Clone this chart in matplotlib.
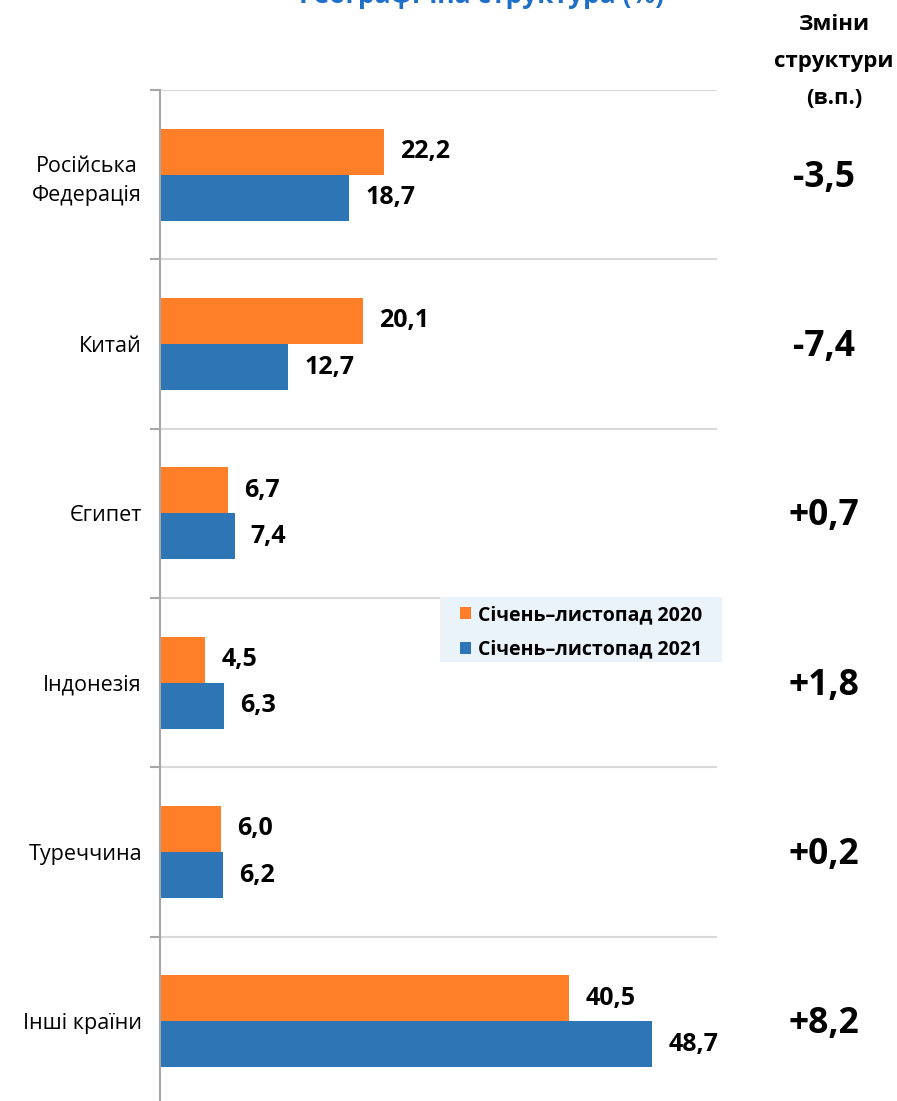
import numpy as np
import matplotlib.pyplot as plt
from matplotlib.patches import Rectangle

plt.rcParams['font.family'] = ['Open Sans', 'DejaVu Sans']

# Geographic structure, % of total
countries = ['Російська\nФедерація', 'Китай', 'Єгипет', 'Індонезія', 'Туреччина', 'Інші країни']
share_2020 = [22.2, 20.1, 6.7, 4.5, 6.0, 40.5]
share_2021 = [18.7, 12.7, 7.4, 6.3, 6.2, 48.7]
changes = ['-3,5', '-7,4', '+0,7', '+1,8', '+0,2', '+8,2']
series_labels = ['Січень–листопад 2020', 'Січень–листопад 2021']

ORANGE = '#FE7F27'
BLUE = '#2E75B6'
GRID = '#D9D9D9'

W, H = 897, 1101
fig = plt.figure(figsize=(W / 100, H / 100), dpi=100)
ax = fig.add_axes([160 / W, -5 / H, (717 - 160) / W, (1011 + 5) / H])

y = np.arange(len(countries))
h = 0.272
b1 = ax.barh(y - h / 2, share_2020, height=h, color=ORANGE, label=series_labels[0])
b2 = ax.barh(y + h / 2, share_2021, height=h, color=BLUE, label=series_labels[1])

ax.set_xlim(0, 55.1)
ax.set_ylim(len(countries) - 0.5, -0.5)

# gridlines on category boundaries
bounds = np.arange(-0.5, len(countries), 1.0)
for yb in bounds:
    ax.axhline(yb, color=GRID, lw=1.5, zorder=0)

ax.set_yticks(bounds)
ax.set_yticklabels([])
ax.tick_params(axis='y', which='major', length=7, width=1.5, color='#A6A6A6')
ax.set_yticks(y, minor=True)
ax.set_yticklabels(countries, minor=True, fontsize=15.5, multialignment='center',
                   linespacing=1.5)
ax.tick_params(axis='y', which='minor', length=0, pad=13)
ax.set_xticks([])

for s in ['top', 'right', 'bottom']:
    ax.spines[s].set_visible(False)
ax.spines['left'].set_color('#A6A6A6')
ax.spines['left'].set_linewidth(1.5)

# value labels
for bars, vals in [(b1, share_2020), (b2, share_2021)]:
    for bar, v in zip(bars, vals):
        ax.annotate(f'{v:.1f}'.replace('.', ','),
                    (bar.get_width(), bar.get_y() + bar.get_height() / 2),
                    xytext=(16, 0), textcoords='offset pixels',
                    va='center', ha='left', fontsize=18, fontweight='bold')

# change column
for i, c in enumerate(changes):
    yc = 1 - (90 + (i + 0.5) * 169.3 + 3) / H
    fig.text(824 / W, yc, c, ha='center', va='center', fontsize=25.5, fontweight='bold')

fig.text(834 / W, 1 - 61 / H, 'Зміни\nструктури\n(в.п.)', ha='center', va='center',
         fontsize=16, fontweight='bold', linespacing=2.0)

fig.text(481 / W, 1 - 3 / H, 'Географічна структура (%)', ha='center', va='baseline',
         fontsize=19, fontweight='bold', color='#1F6FC8')

# legend on a light panel
ax.add_patch(Rectangle((440 / W, 1 - 662 / H), (722 - 440) / W, (662 - 597) / H,
                       transform=fig.transFigure, facecolor='#EAF2FA',
                       edgecolor='none', zorder=3, clip_on=False))
leg = ax.legend(loc='upper left', bbox_to_anchor=(455 / W, 1 - 600 / H),
                bbox_transform=fig.transFigure,
                prop={'weight': 'bold', 'size': 14}, frameon=False,
                handlelength=0.55, handleheight=0.55, handletextpad=0.4,
                borderpad=0.25, labelspacing=0.76, borderaxespad=0)
leg.set_zorder(4)

fig.savefig('out.png', dpi=100)
